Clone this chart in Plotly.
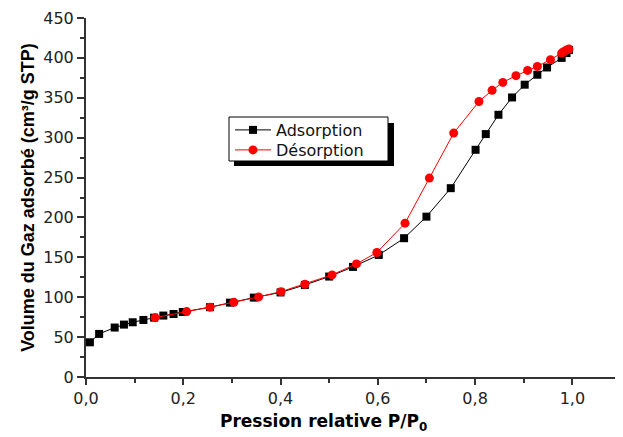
import plotly.graph_objects as go

ads_x = [0.008, 0.027, 0.059, 0.078, 0.096, 0.118, 0.140, 0.159, 0.180, 0.199, 0.255, 0.296, 0.345, 0.400, 0.450,
         0.500, 0.549, 0.602, 0.654, 0.700, 0.750, 0.801, 0.822, 0.848, 0.876, 0.902, 0.928, 0.948, 0.978, 0.988, 0.993]
ads_y = [43.5, 54, 62, 65.7, 68.6, 71.5, 74.4, 77, 79, 81.5, 87.5, 93.2, 99.5, 106, 115.4,
         125.9, 138, 153, 174, 201, 236.7, 284.8, 304.5, 328.7, 350.4, 366.4, 378.9, 388, 400, 406, 410]

des_x = [0.993, 0.988, 0.983, 0.978, 0.955, 0.928, 0.908, 0.884, 0.857, 0.835, 0.808, 0.756, 0.706, 0.656,
         0.598, 0.556, 0.506, 0.450, 0.401, 0.355, 0.304, 0.255, 0.207, 0.142]
des_y = [411, 410, 408, 406, 397.8, 389.3, 384.3, 377.7, 369.3, 359.3, 345.4, 305.7, 249.3, 192.8,
         156, 141.8, 128, 116.3, 107, 100.4, 93.7, 87.5, 82, 74.4]

x_title = "Pression relative P/P<sub>0</sub>"
y_title = "Volume du Gaz adsorbé (cm³/g STP)"

fig = go.Figure()
fig.add_trace(go.Scatter(x=ads_x, y=ads_y, mode="lines+markers", name="Adsorption",
                         line=dict(color="black", width=1), legend="legend",
                         marker=dict(symbol="square", size=8, color="black")))
fig.add_trace(go.Scatter(x=des_x, y=des_y, mode="lines+markers", name="Désorption",
                         line=dict(color="red", width=1), legend="legend2",
                         marker=dict(symbol="circle", size=9, color="red")))

# page body has an 8px margin: figure is drawn from (8, 8) on screen
W, H = 615, 429
L, T = 78, 10
PW, PH = 535, 359


def px_x(v):
    return (v - 8 - L) / PW


def px_y(v):
    return 1 - (v - 8 - T) / PH


def legend_style(row_y):
    return dict(x=px_x(230), y=px_y(row_y), xanchor="left", yanchor="middle",
                bgcolor="rgba(0,0,0,0)", borderwidth=0,
                font=dict(family="DejaVu Sans", size=16, color="#111"), itemwidth=36)


tick_font = dict(family="DejaVu Sans", size=16, color="#222")
fig.update_layout(
    width=W, height=H,
    margin=dict(l=L, r=W - L - PW, t=T, b=H - T - PH, autoexpand=False),
    paper_bgcolor="white", plot_bgcolor="white",
    separators=", ",
    font=dict(family="DejaVu Sans", size=16, color="black"),
    showlegend=True,
    legend=legend_style(130),
    legend2=legend_style(150),
    xaxis=dict(range=[0, 1.1], dtick=0.2, tick0=0, tickformat=".1f",
               showgrid=False, zeroline=False, showline=True, linecolor="#333", linewidth=2,
               ticks="outside", ticklen=6, tickwidth=1.5, tickcolor="#333",
               minor=dict(ticks="outside", ticklen=4, dtick=0.1, tickcolor="#333", showgrid=False),
               tickfont=tick_font),
    yaxis=dict(range=[0, 450], dtick=50, tick0=0,
               showgrid=False, zeroline=False, showline=True, linecolor="#333", linewidth=2,
               ticks="outside", ticklen=7, tickwidth=1.5, tickcolor="#333",
               minor=dict(ticks="outside", ticklen=4, dtick=25, tickcolor="#333", showgrid=False),
               tickfont=tick_font,
               title=dict(text="<b>" + y_title + "</b>",
                          font=dict(family="Liberation Sans, Arial", size=18, color="black"), standoff=4)),
)

# x axis title (offset to the left of the axis centre, as in the original)
fig.add_annotation(text="<b>" + x_title + "</b>", xref="paper", yref="paper",
                   x=px_x(323), y=px_y(422), xanchor="center", yanchor="middle", showarrow=False,
                   font=dict(family="DejaVu Sans", size=17, color="black"))

# legend frame: drop shadow, then white box with black border
fig.add_shape(type="rect", xref="paper", yref="paper",
              x0=px_x(234), x1=px_x(394), y0=px_y(166), y1=px_y(123),
              fillcolor="black", line=dict(width=0), layer="above")
fig.add_shape(type="rect", xref="paper", yref="paper",
              x0=px_x(229), x1=px_x(388), y0=px_y(161), y1=px_y(117),
              fillcolor="white", line=dict(color="black", width=1), layer="above")

fig.write_html("out.html")
